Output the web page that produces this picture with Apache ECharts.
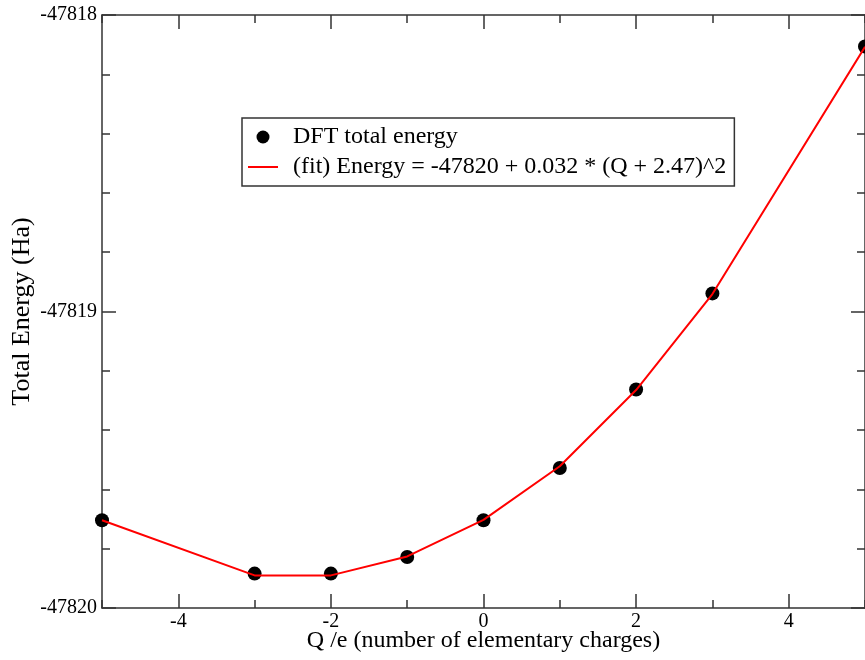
<!DOCTYPE html>
<html>
<head>
<meta charset="utf-8">
<script src="https://cdn.jsdelivr.net/npm/echarts@6/dist/echarts.min.js"></script>
<style>
  html, body { margin: 0; padding: 0; background: #fff; }
  #chart { width: 865px; height: 660px; }
</style>
</head>
<body>
<div id="chart"></div>
<script>
// charge Q (e) and energies (Ha)
var charges = [-5, -3, -2, -1, 0, 1, 2, 3, 5];
var dftEnergy = [-47819.704, -47819.884, -47819.884, -47819.828, -47819.704, -47819.528, -47819.263, -47818.939, -47818.106];
var fitEnergy = [-47819.704, -47819.890, -47819.890, -47819.826, -47819.703, -47819.522, -47819.265, -47818.941, -47818.107];
var xMajorTicks = [-4, -2, 0, 2, 4];

var dftName = 'DFT total energy';
var fitName = '(fit) Energy = -47820 + 0.032 * (Q + 2.47)^2';

var font = 'Liberation Serif';
var axisColor = '#333';

function pairs(xs, ys) {
  return xs.map(function (x, i) { return [x, ys[i]]; });
}

var gridBox = { left: 102, right: 0, top: 15, bottom: 52, outerBoundsMode: 'none', containLabel: false };

// x axis with short ticks at every integer (grid 0), long ones at even values (grid 1)
function xMinor(pos, withLabels) {
  return {
    type: 'value', gridIndex: 0, position: pos,
    min: -5, max: 5, interval: 1,
    axisLine: { show: true, onZero: false, lineStyle: { color: axisColor, width: 1.5 } },
    axisTick: { show: true, inside: true, length: 8, lineStyle: { color: axisColor, width: 1.5 } },
    axisLabel: withLabels ? {
      show: true, customValues: xMajorTicks, margin: 4,
      fontFamily: font, fontSize: 20, color: '#000'
    } : { show: false },
    splitLine: { show: false },
    name: withLabels ? 'Q /e (number of elementary charges)' : '',
    nameLocation: 'middle', nameGap: 21, nameMoveOverlap: false,
    nameTextStyle: { fontFamily: font, fontSize: 24, color: '#000' }
  };
}
function xMajor(pos) {
  return {
    type: 'value', gridIndex: 1, position: pos,
    min: -5, max: 5, interval: 1,
    axisLine: { show: false, onZero: false },
    axisTick: { show: true, inside: true, length: 14, customValues: xMajorTicks,
      lineStyle: { color: axisColor, width: 1.5 } },
    axisLabel: { show: false },
    splitLine: { show: false }
  };
}
function yAxisDef(pos, grid, withLabels) {
  return {
    type: 'value', gridIndex: grid, position: pos,
    min: -47820, max: -47818, interval: 1,
    axisLine: { show: grid === 0, onZero: false, lineStyle: { color: axisColor, width: 1.5 } },
    axisTick: { show: grid === 0, inside: true, length: 14, lineStyle: { color: axisColor, width: 1.5 } },
    minorTick: { show: grid === 0, splitNumber: 5, length: 8, lineStyle: { color: axisColor, width: 1.5 } },
    axisLabel: withLabels ? {
      show: true, margin: 5, fontFamily: font, fontSize: 20, color: '#000',
      formatter: function (v) { return String(Math.round(v)); }
    } : { show: false },
    splitLine: { show: false },
    name: withLabels ? 'Total Energy (Ha)' : '',
    nameLocation: 'middle', nameRotate: 90, nameGap: 67, nameMoveOverlap: false,
    nameTextStyle: { fontFamily: font, fontSize: 26, color: '#000' }
  };
}

var chart = echarts.init(document.getElementById('chart'), null, { renderer: 'canvas' });
chart.setOption({
  animation: false,
  backgroundColor: '#fff',
  grid: [
    Object.assign({}, gridBox),
    Object.assign({}, gridBox)
  ],
  xAxis: [xMinor('bottom', true), xMinor('top', false), xMajor('bottom'), xMajor('top')],
  yAxis: [yAxisDef('left', 0, true), yAxisDef('right', 0, false), yAxisDef('left', 1, false)],
  legend: {
    orient: 'vertical',
    left: 242, top: 118,
    padding: [7, 8, 7, 6],
    itemGap: 6,
    itemWidth: 30, itemHeight: 13,
    borderColor: '#333', borderWidth: 1.5, borderRadius: 0,
    textStyle: { fontFamily: font, fontSize: 24, color: '#000', padding: [0, 0, 0, 10] },
    data: [
      { name: dftName, icon: 'circle', itemStyle: { color: '#000', opacity: 1 } },
      { name: fitName, icon: 'path://M0,0H30V2H0Z', itemStyle: { color: '#ff0000' } }
    ]
  },
  series: [
    {
      name: dftName, type: 'scatter', xAxisIndex: 0, yAxisIndex: 0,
      symbol: 'circle', symbolSize: 14,
      itemStyle: { color: '#000', opacity: 1 },
      data: pairs(charges, dftEnergy)
    },
    {
      name: fitName, type: 'line', xAxisIndex: 0, yAxisIndex: 0,
      symbol: 'none', smooth: false,
      lineStyle: { color: '#ff0000', width: 2 },
      itemStyle: { color: '#ff0000' },
      data: pairs(charges, fitEnergy),
      z: 3
    }
  ]
});
</script>
</body>
</html>
